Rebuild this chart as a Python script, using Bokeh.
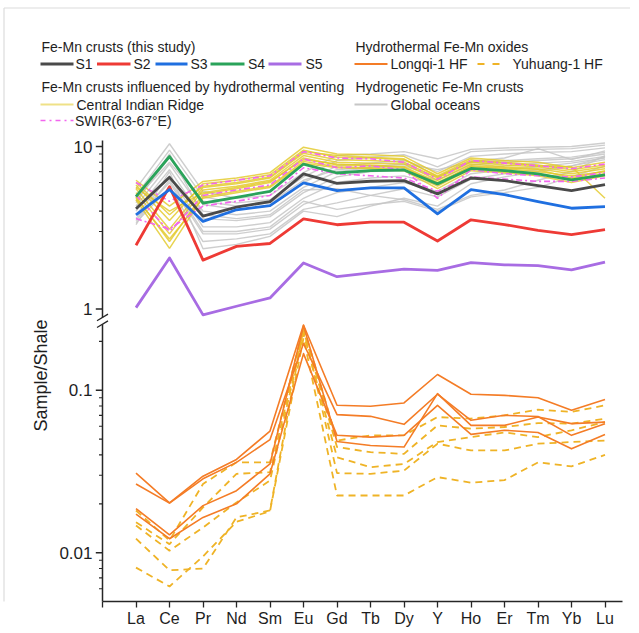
import numpy as np
from bokeh.plotting import figure
from bokeh.models import Range1d, FixedTicker
from bokeh.embed import file_html
from bokeh.resources import INLINE
from bokeh.core.properties import value

# ---------------- data (sample / shale) ----------------
elements = ["La", "Ce", "Pr", "Nd", "Sm", "Eu", "Gd", "Tb", "Dy", "Y", "Ho", "Er", "Tm", "Yb", "Lu"]

S1 = [4.14, 6.46, 3.73, 4.23, 4.58, 6.78, 5.93, 6.11, 6.17, 5.11, 6.40, 6.17, 5.75, 5.35, 5.83]
S2 = [2.47, 5.66, 2.00, 2.43, 2.53, 3.59, 3.30, 3.42, 3.42, 2.62, 3.54, 3.31, 3.05, 2.87, 3.08]
S3 = [3.80, 5.43, 3.46, 4.08, 4.33, 5.97, 5.35, 5.56, 5.56, 3.85, 5.43, 5.06, 4.58, 4.17, 4.27]
S4 = [4.92, 8.68, 4.48, 4.87, 5.30, 7.80, 6.87, 7.10, 7.17, 5.89, 7.33, 7.10, 6.78, 6.23, 6.68]
S5 = [1.02, 2.06, 0.92, 1.04, 1.17, 1.92, 1.58, 1.67, 1.76, 1.73, 1.93, 1.87, 1.85, 1.74, 1.94]

cir_lines = [
    [6.2, 4.3, 6.1, 6.4, 6.9, 9.9, 9.0, 8.9, 8.7, 6.8, 8.5, 8.2, 8.0, 7.4, 8.0],
    [5.8, 3.5, 5.9, 6.2, 6.7, 9.5, 8.6, 8.5, 8.3, 6.6, 8.3, 8.0, 7.7, 7.2, 7.7],
    [5.5, 3.1, 5.6, 5.9, 6.4, 9.1, 8.3, 8.2, 8.0, 6.4, 8.0, 7.7, 7.5, 7.0, 7.5],
    [5.2, 2.9, 5.4, 5.7, 6.2, 8.8, 8.0, 7.9, 7.8, 6.2, 7.8, 7.5, 7.3, 6.8, 7.3],
    [4.9, 2.6, 5.1, 5.5, 6.0, 8.5, 7.7, 7.7, 7.5, 6.0, 7.5, 7.3, 7.0, 6.6, 7.0],
    [4.7, 2.36, 4.9, 5.3, 5.7, 8.1, 7.5, 7.4, 7.2, 5.7, 7.3, 7.0, 6.8, 6.3, 6.8],
    [6.0, 3.8, 5.7, 6.0, 6.5, 9.3, 8.8, 8.6, 8.4, 6.5, 8.1, 7.9, 7.6, 7.5, 4.8],
    [5.6, 4.0, 5.2, 5.6, 6.1, 8.3, 7.8, 7.6, 7.4, 5.9, 7.6, 7.4, 7.2, 6.4, 7.1],
    [4.8, 2.7, 4.8, 5.2, 5.6, 7.9, 7.4, 7.3, 7.1, 5.5, 7.1, 6.9, 6.6, 6.0, 6.6],
]

swir_lines = [
    [6.0, 4.6, 5.8, 6.2, 6.6, 9.3, 8.5, 8.4, 8.0, 6.3, 8.2, 7.9, 7.6, 7.3, 7.8],
    [5.0, 3.0, 5.0, 5.4, 5.8, 8.4, 7.4, 7.6, 7.2, 4.8, 7.2, 6.8, 6.6, 6.5, 6.9],
    [3.6, 3.1, 4.3, 4.6, 5.0, 7.4, 6.8, 6.6, 6.4, 5.3, 6.5, 6.3, 6.1, 6.1, 6.4],
]

ocean_lines = [
    [5.5, 10.4, 5.3, 4.8, 5.0, 6.9, 8.8, 9.0, 9.3, 8.4, 9.6, 9.8, 9.9, 10.0, 10.5],
    [5.0, 9.5, 4.9, 4.5, 4.7, 6.5, 8.2, 8.6, 8.9, 7.5, 9.3, 9.5, 9.6, 9.7, 10.2],
    [4.6, 8.6, 4.4, 4.1, 4.3, 6.0, 7.6, 7.9, 8.2, 7.0, 8.7, 9.0, 9.2, 9.3, 9.8],
    [4.3, 7.8, 4.0, 3.8, 4.0, 5.6, 7.0, 7.4, 7.6, 6.5, 8.1, 8.5, 9.7, 8.3, 9.4],
    [4.0, 7.2, 3.6, 3.5, 3.7, 5.2, 6.5, 7.0, 7.1, 6.2, 7.7, 8.0, 8.2, 8.4, 9.0],
    [3.8, 6.6, 3.2, 3.2, 3.4, 4.8, 6.0, 6.4, 6.6, 5.8, 7.3, 7.6, 7.9, 8.1, 8.7],
    [3.6, 6.0, 2.9, 2.9, 3.1, 4.4, 5.2, 5.6, 6.0, 5.3, 6.8, 7.2, 7.5, 7.9, 8.5],
    [3.4, 5.6, 2.6, 2.7, 2.9, 4.1, 4.5, 5.0, 5.5, 4.9, 6.3, 6.8, 7.2, 7.6, 8.3],
    [3.3, 7.0, 2.35, 2.5, 2.8, 4.0, 3.7, 4.3, 4.8, 4.3, 5.9, 6.5, 7.0, 7.6, 8.6],
    [4.5, 9.0, 3.8, 3.6, 3.8, 5.4, 5.5, 5.0, 4.7, 4.1, 5.0, 5.4, 6.2, 7.0, 8.8],
    [4.8, 8.0, 4.6, 4.3, 4.5, 6.2, 7.2, 7.5, 7.8, 7.2, 8.0, 8.2, 8.4, 8.6, 9.2],
    [3.5, 6.2, 3.0, 3.0, 3.2, 4.6, 4.1, 4.4, 4.6, 4.0, 4.9, 5.2, 5.6, 6.5, 7.6],
]

longqi_lines = [
    [0.0309, 0.0203, 0.0296, 0.0375, 0.0561, 0.252, 0.0808, 0.0797, 0.0835, 0.125, 0.0945, 0.093, 0.090, 0.0753, 0.0876],
    [0.0265, 0.0202, 0.0285, 0.0360, 0.0497, 0.194, 0.0708, 0.0691, 0.0617, 0.0945, 0.0653, 0.0701, 0.0690, 0.0528, 0.0623],
    [0.0187, 0.0129, 0.0195, 0.0241, 0.0352, 0.250, 0.0484, 0.0457, 0.0447, 0.0954, 0.0608, 0.0608, 0.0684, 0.0623, 0.0637],
    [0.0173, 0.0122, 0.0165, 0.0200, 0.0306, 0.168, 0.0528, 0.0515, 0.0528, 0.0808, 0.0535, 0.0567, 0.0550, 0.0436, 0.0535],
]

yuhuang_lines = [
    [0.0182, 0.0119, 0.0265, 0.0360, 0.0360, 0.246, 0.0490, 0.0528, 0.0528, 0.0684, 0.0669, 0.0701, 0.0760, 0.0735, 0.0808],
    [0.0154, 0.0113, 0.0190, 0.0306, 0.0313, 0.234, 0.0447, 0.0416, 0.0406, 0.0608, 0.0580, 0.0594, 0.0628, 0.0623, 0.0669],
    [0.0147, 0.0103, 0.0143, 0.0204, 0.0278, 0.224, 0.0387, 0.0336, 0.0352, 0.0480, 0.0515, 0.0550, 0.0515, 0.0567, 0.0637],
    [0.0122, 0.0078, 0.0080, 0.0165, 0.0182, 0.240, 0.0309, 0.0306, 0.0320, 0.0469, 0.0426, 0.0426, 0.0469, 0.0480, 0.0490],
    [0.0081, 0.0062, 0.0095, 0.0155, 0.0180, 0.210, 0.0225, 0.0225, 0.0225, 0.0292, 0.0270, 0.0280, 0.0360, 0.0340, 0.0400],
]

# axis breaks / tick values
upper_range = (0.887, 10.9)
lower_range = (0.005, 0.255)
upper_major = [1, 10]
upper_minor = [2, 3, 4, 5, 6, 7, 8, 9]
lower_major = [0.01, 0.1]
lower_minor = [0.006, 0.007, 0.008, 0.009, 0.02, 0.03, 0.04, 0.05, 0.06, 0.07, 0.08, 0.09, 0.2]

sample_names = ["S1", "S2", "S3", "S4", "S5"]
sample_colors = ["#4a4a4a", "#ee3a35", "#1f6fe0", "#2aa35a", "#a86ce3"]
group_titles = ["Fe-Mn crusts (this study)", "Hydrothermal Fe-Mn oxides",
                "Fe-Mn crusts influenced by hydrothermal venting", "Hydrogenetic Fe-Mn crusts"]
ref_names = ["Longqi-1 HF", "Yuhuang-1 HF", "Central Indian Ridge", "Global oceans", "SWIR(63-67°E)"]

# ---------------- styles / layout ----------------
FONT = "Liberation Sans"
TXT = "#1e1e1e"
AX = "#262626"
CIR_C, SWIR_C, OCEAN_C = "#e2c824", "#f266ee", "#c6c6c6"
LQ_C, YH_C = "#f47c26", "#efb326"

W, H = 630, 630
PX_X0, PX_PER_X = 102.0, 33.5     # canvas x of element axis origin, px per element
PX_Y1, PX_PER_T = 308.5, 81.25    # canvas y of value 1, px per half-decade
FRAME_BOTTOM = 601


def t_up(v):
    return 2 * np.log10(np.asarray(v, dtype=float))


def t_lo(v):
    return 2 * np.log10(np.asarray(v, dtype=float)) + 1.0


def px_x(px):
    return (np.asarray(px, dtype=float) - PX_X0) / PX_PER_X


def px_t(py):
    return (PX_Y1 - np.asarray(py, dtype=float)) / PX_PER_T


xi = list(range(1, len(elements) + 1))
x_end = float(px_x(622))

p = figure(width=W, height=H, output_backend="svg", toolbar_location=None,
           x_range=Range1d(float(px_x(0)), float(px_x(W))),
           y_range=Range1d(float(px_t(FRAME_BOTTOM)), float(px_t(0))),
           y_axis_location=None,
           min_border_left=0, min_border_right=0, min_border_top=0,
           min_border_bottom=H - FRAME_BOTTOM)
p.xgrid.visible = False
p.ygrid.visible = False
p.outline_line_color = None
p.background_fill_color = "white"

# faint picture border (top / left)
p.segment(x0=[float(px_x(3.5)), float(px_x(3.5))], y0=[float(px_t(7.5)), float(px_t(7.5))],
          x1=[float(px_x(W)), float(px_x(3.5))], y1=[float(px_t(7.5)), float(px_t(H))],
          line_color="#dcdcdc", line_width=1.2)

# reference groups
p.multi_line([xi] * len(ocean_lines), [list(t_up(v)) for v in ocean_lines],
             line_color=OCEAN_C, line_width=1.4, line_alpha=0.85)
p.multi_line([xi] * len(cir_lines), [list(t_up(v)) for v in cir_lines],
             line_color=CIR_C, line_width=1.5, line_alpha=0.8)
for v in swir_lines:
    p.line(xi, t_up(v), line_color=SWIR_C, line_width=1.6, line_dash="6 3 2 3")

for v, c in zip([S1, S2, S3, S4, S5], sample_colors):
    p.line(xi, t_up(v), line_color=c, line_width=2.8, line_join="round")

for v in yuhuang_lines:
    p.line(xi, t_lo(v), line_color=YH_C, line_width=1.8, line_dash="7 5")
for v in longqi_lines:
    p.line(xi, t_lo(v), line_color=LQ_C, line_width=1.6, line_join="round")

# custom broken y axis
up_bot, up_top = float(t_up(upper_range[0])), float(t_up(upper_range[1]))
lo_bot, lo_top = float(t_lo(lower_range[0])), float(t_lo(lower_range[1]))
p.segment(x0=[0, 0], y0=[up_bot, lo_bot], x1=[0, 0], y1=[up_top, lo_top],
          line_color=AX, line_width=1.5)
bx, by = 5.5 / PX_PER_X, 3.3 / PX_PER_T
p.segment(x0=[-bx, -bx], y0=[up_bot - by, lo_top - by], x1=[bx, bx], y1=[up_bot + by, lo_top + by],
          line_color=AX, line_width=1.3)
maj_t = [float(t) for t in t_up(upper_major)] + [float(t) for t in t_lo(lower_major)]
min_t = [float(t) for t in t_up(upper_minor)] + [float(t) for t in t_lo(lower_minor)]
maj_len, min_len = 6.7 / PX_PER_X, 3.5 / PX_PER_X
p.segment(x0=[-maj_len] * len(maj_t), y0=maj_t, x1=[0] * len(maj_t), y1=maj_t,
          line_color=AX, line_width=1.3)
p.segment(x0=[-min_len] * len(min_t), y0=min_t, x1=[0] * len(min_t), y1=min_t,
          line_color=AX, line_width=1.1)

ytick_labels = [str(v) for v in upper_major] + [str(v) for v in lower_major]
p.text(x=[float(px_x(92))] * len(maj_t), y=maj_t, text=ytick_labels,
       text_font=value(FONT), text_font_size=value("17px"), text_color=TXT,
       text_align="right", text_baseline="middle")
p.text(x=[float(px_x(40))], y=[float(px_t(375))], text=["Sample/Shale"], angle=np.pi / 2,
       text_font=value(FONT), text_font_size=value("18px"), text_color=TXT,
       text_align="center", text_baseline="middle")

# x axis (element names)
p.xaxis.ticker = FixedTicker(ticks=[0] + xi, minor_ticks=[])
p.xaxis.major_label_overrides = {0: "", **{i: e for i, e in zip(xi, elements)}}
p.xaxis.bounds = (0, x_end)
p.xaxis.axis_line_color = AX
p.xaxis.axis_line_width = 1.5
p.xaxis.major_tick_line_color = AX
p.xaxis.major_tick_line_width = 1.3
p.xaxis.major_tick_out = 6
p.xaxis.major_tick_in = 0
p.xaxis.minor_tick_line_color = None
p.xaxis.major_label_standoff = 2
p.xaxis.major_label_text_font = FONT
p.xaxis.major_label_text_font_size = "16px"
p.xaxis.major_label_text_color = TXT

# ---------------- legend (placed in canvas pixels) ----------------
LEG_FS = value("14px")
row_y = [46, 63.5, 86, 104, 120]
RC = 355  # right legend column


def leg_line(x0, x1, y, **kw):
    p.line(list(px_x([x0, x1])), list(px_t([y, y])), **kw)


def leg_text(xs, ys, texts):
    p.text(x=list(px_x(xs)), y=list(px_t(ys)), text=texts, text_font=value(FONT),
           text_font_size=LEG_FS, text_color=TXT, text_baseline="middle", text_align="left")


leg_text([41, RC, 41, RC], [row_y[0], row_y[0], row_y[2], row_y[2]], group_titles)

s_line = [(40, 73), (96.5, 130), (155, 187), (210, 244), (268, 301)]
s_text_x = [75, 133, 190, 247.5, 305]
for (x0, x1), c in zip(s_line, sample_colors):
    leg_line(x0, x1, row_y[1], line_color=c, line_width=3)
leg_text(s_text_x, [row_y[1]] * 5, sample_names)

leg_line(RC - 1, RC + 32, row_y[1], line_color=LQ_C, line_width=1.8)
leg_line(477, 499, row_y[1], line_color=YH_C, line_width=1.8, line_dash="7 8")
leg_line(40, 73, row_y[3], line_color=CIR_C, line_width=1.8, line_alpha=0.55)
leg_line(RC - 1, RC + 32, row_y[3], line_color=OCEAN_C, line_width=1.8)
leg_line(40, 73, row_y[4], line_color=SWIR_C, line_width=1.6, line_dash="5 4 2 4")
leg_text([RC + 35, 512, 76, RC + 35, 74.5], [row_y[1], row_y[1], row_y[3], row_y[3], row_y[4]], ref_names)

open("out.html", "w").write(file_html(p, INLINE))
